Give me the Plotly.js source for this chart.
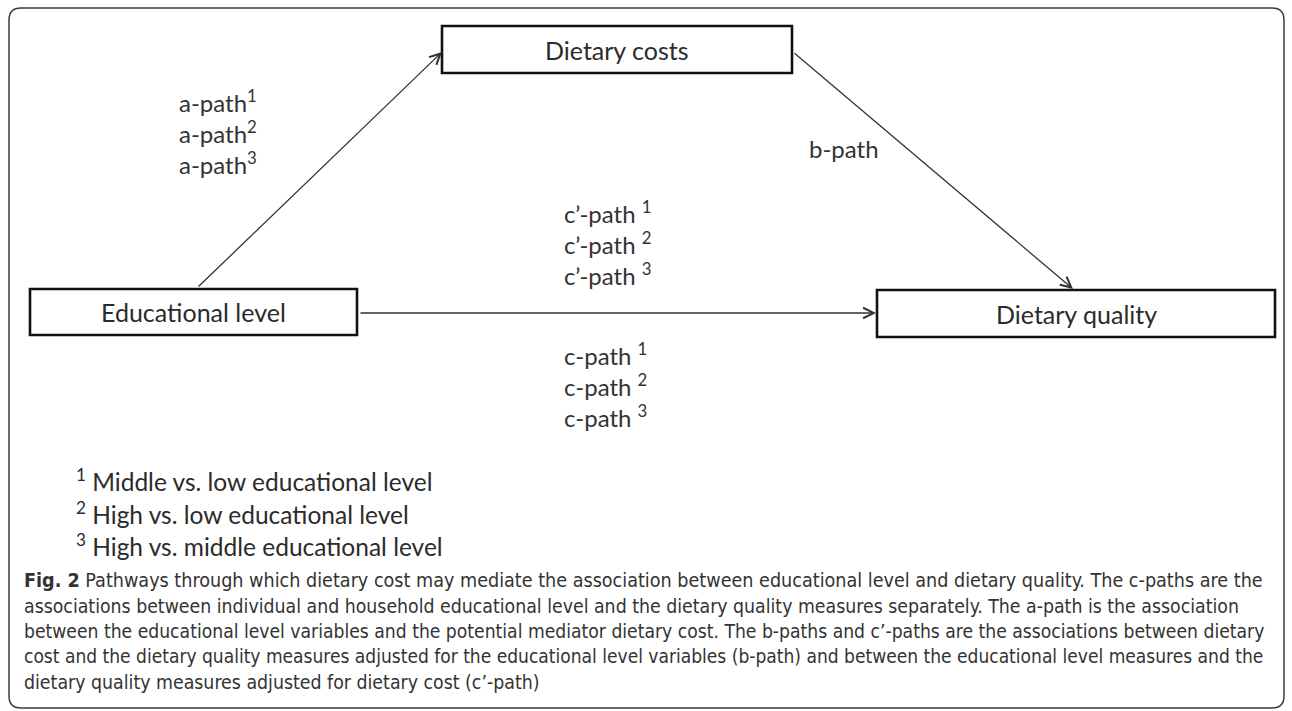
<!DOCTYPE html>
<html>
<head>
<meta charset="utf-8">
<script src="https://cdn.plot.ly/plotly-3.0.1.min.js"></script>
<style>html,body{margin:0;padding:0;background:#fff;}#chart{width:1292px;height:711px;}</style>
</head>
<body>
<div id="chart"></div>
<script>
// ---- content ----
var nodeLabels = ["Dietary costs", "Educational level", "Dietary quality"];
var aPathLabels = ["a-path<sup>1</sup>", "a-path<sup>2</sup>", "a-path<sup>3</sup>"];
var bPathLabels = ["b-path"];
var cPrimeLabels = ["c\u2019-path <sup>1</sup>", "c\u2019-path <sup>2</sup>", "c\u2019-path <sup>3</sup>"];
var cPathLabels = ["c-path <sup>1</sup>", "c-path <sup>2</sup>", "c-path <sup>3</sup>"];
var footnotes = [
  "<sup>1</sup> Middle vs. low educational level",
  "<sup>2</sup> High vs. low educational level",
  "<sup>3</sup> High vs. middle educational level"
];
var captionBold = "Fig. 2";
var captionLines = [
  " Pathways through which dietary cost may mediate the association between educational level and dietary quality. The c-paths are the",
  "associations between individual and household educational level and the dietary quality measures separately. The a-path is the association",
  "between the educational level variables and the potential mediator dietary cost. The b-paths and c\u2019-paths are the associations between dietary",
  "cost and the dietary quality measures adjusted for the educational level variables (b-path) and between the educational level measures and the",
  "dietary quality measures adjusted for dietary cost (c\u2019-path)"
];

// ---- geometry (layout of the diagram) ----
var geo = {
  boxes: [
    {x0: 442, x1: 792, y0: 26, y1: 73},
    {x0: 30, x1: 357, y0: 289, y1: 335},
    {x0: 877, x1: 1275, y0: 290, y1: 337}
  ],
  arrows: [
    {from: [197, 288], to: [442, 52]},
    {from: [793, 52], to: [1073, 289]},
    {from: [359, 313], to: [876, 313]}
  ],
  aPath: {x: 177, y: [101, 132, 163]},
  bPath: {x: 807, y: [148]},
  cPrime: {x: 562, y: [212, 243, 274]},
  cPath: {x: 562, y: [354, 385, 416]},
  foot: {x: 74, y: [480, 513, 545]},
  caption: {x: 22, y: [580, 606, 631, 656, 682], right: [1262, 1238, 1263, 1262, 538]}
};

var sans = "Lato, 'Open Sans', sans-serif";
var capFamily = "'DejaVu Sans Condensed', 'Liberation Sans', sans-serif";
var labelFont = {family: sans, size: 24, color: "#333333"};
var nodeFont = {family: sans, size: 25, color: "#2b2b2b"};
var footFont = {family: sans, size: 24.5, color: "#2b2b2b"};

// fit each caption line's font size to the width it spans in the figure
var cv = document.createElement("canvas").getContext("2d");
var base = 20;
function capWidth(i) {
  var w = 0;
  if (i === 0) { cv.font = "bold " + base + "px 'DejaVu Sans Condensed'"; w += cv.measureText(captionBold).width; }
  cv.font = base + "px 'DejaVu Sans Condensed'";
  return w + cv.measureText(captionLines[i]).width;
}

var shapes = [];
var L = 9, T = 8, R = 1284, B = 708, r = 12;
shapes.push({
  type: "path", xref: "x", yref: "y",
  path: "M" + (L + r) + "," + T + " L" + (R - r) + "," + T + " Q" + R + "," + T + " " + R + "," + (T + r) +
        " L" + R + "," + (B - r) + " Q" + R + "," + B + " " + (R - r) + "," + B +
        " L" + (L + r) + "," + B + " Q" + L + "," + B + " " + L + "," + (B - r) +
        " L" + L + "," + (T + r) + " Q" + L + "," + T + " " + (L + r) + "," + T + " Z",
  line: {color: "#3a3a3a", width: 1.5}
});
geo.boxes.forEach(function (b) {
  shapes.push({type: "rect", xref: "x", yref: "y", x0: b.x0, x1: b.x1, y0: b.y0, y1: b.y1,
    line: {color: "#111111", width: 2.6}, fillcolor: "rgba(0,0,0,0)"});
});

var ann = [];
geo.arrows.forEach(function (a) {
  ann.push({x: a.to[0], y: a.to[1], ax: a.from[0], ay: a.from[1], xref: "x", yref: "y", axref: "x", ayref: "y",
    text: "", showarrow: true, arrowhead: 5, arrowsize: 1.6, arrowwidth: 1.3, arrowcolor: "#333333", standoff: 0});
});
geo.boxes.forEach(function (b, i) {
  ann.push({x: (b.x0 + b.x1) / 2, y: (b.y0 + b.y1) / 2, xref: "x", yref: "y", text: nodeLabels[i],
    showarrow: false, font: nodeFont, xanchor: "center", yanchor: "middle"});
});
function addList(list, pos, font) {
  list.forEach(function (t, i) {
    ann.push({x: pos.x, y: pos.y[i], xref: "x", yref: "y", text: t, showarrow: false, font: font,
      xanchor: "left", yanchor: "middle", align: "left"});
  });
}
addList(aPathLabels, geo.aPath, labelFont);
addList(bPathLabels, geo.bPath, labelFont);
addList(cPrimeLabels, geo.cPrime, labelFont);
addList(cPathLabels, geo.cPath, labelFont);
addList(footnotes, geo.foot, footFont);
captionLines.forEach(function (t, i) {
  var size = base * (geo.caption.right[i] - geo.caption.x) / capWidth(i);
  ann.push({x: geo.caption.x, y: geo.caption.y[i], xref: "x", yref: "y",
    text: i === 0 ? "<b>" + captionBold + "</b>" + t : t,
    showarrow: false, font: {family: capFamily, size: size, color: "#333333"},
    xanchor: "left", yanchor: "middle", align: "left"});
});

var layout = {
  width: 1292, height: 711,
  margin: {l: 0, r: 0, t: 0, b: 0, pad: 0},
  paper_bgcolor: "#ffffff", plot_bgcolor: "#ffffff",
  xaxis: {range: [0, 1292], visible: false, fixedrange: true},
  yaxis: {range: [711, 0], visible: false, fixedrange: true},
  showlegend: false,
  shapes: shapes,
  annotations: ann
};
Plotly.newPlot("chart", [], layout, {displayModeBar: false, staticPlot: true});
</script>
</body>
</html>
